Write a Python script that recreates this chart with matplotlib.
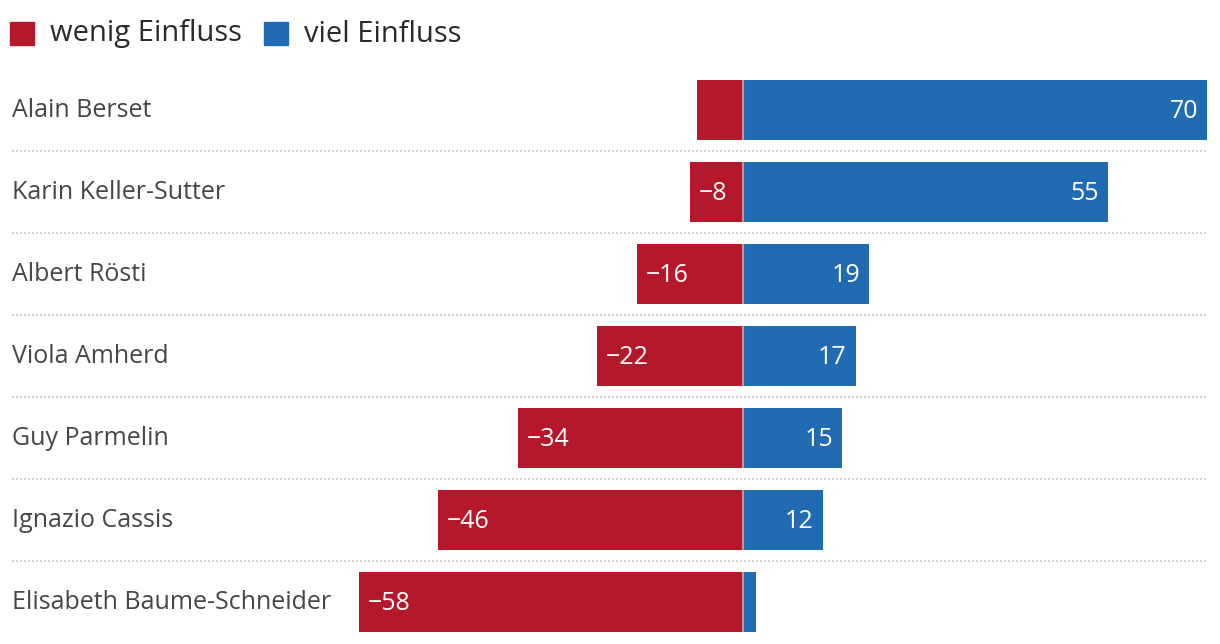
import numpy as np
import matplotlib.pyplot as plt
from matplotlib.patches import Rectangle

names = ["Alain Berset", "Karin Keller-Sutter", "Albert Rösti", "Viola Amherd",
         "Guy Parmelin", "Ignazio Cassis", "Elisabeth Baume-Schneider"]
wenig = [-7, -8, -16, -22, -34, -46, -58]
viel = [70, 55, 19, 17, 15, 12, 2]
legend_labels = ["wenig Einfluss", "viel Einfluss"]

red = '#b5182b'
blue = '#216bb2'
txt = '#464646'

plt.rcParams['font.family'] = ['Open Sans', 'DejaVu Sans']

W, H = 1220, 644
fig = plt.figure(figsize=(W / 100, H / 100), dpi=100)
ax = fig.add_axes([12 / W, 1 / H, (1207 - 12) / W, (643 - 69) / H])

y = np.arange(len(names))
bh = 60 / 82
ax.barh(y, wenig, height=bh, color=red, linewidth=0)
ax.barh(y, viel, height=bh, color=blue, linewidth=0)
ax.vlines(np.zeros(len(y)), y - bh / 2, y + bh / 2, color='#d98a94', linewidth=1.5, zorder=3)

for i in range(len(names) - 1):
    ax.axhline(i + 0.5, color='#cfcfcf', linewidth=1.44, linestyle=(0, (1, 1)))

ax.set_xlim(-110.3, 70)
ax.set_ylim(len(names) - 0.5, -0.5)
ax.axis('off')

for i, name in enumerate(names):
    ax.text(0, i + 0.01, name, transform=ax.get_yaxis_transform(), ha='left', va='center',
            fontsize=18, color=txt)
    if abs(wenig[i]) >= 8:
        ax.annotate('\u2212%d' % abs(wenig[i]), (wenig[i], i), xytext=(9, -1),
                    textcoords='offset pixels', ha='left', va='center',
                    fontsize=18, color='white')
    if viel[i] >= 8:
        ax.annotate('%d' % viel[i], (viel[i], i), xytext=(-9, -1),
                    textcoords='offset pixels', ha='right', va='center',
                    fontsize=18, color='white')

# legend
for x0, col, lab, tx in [(10, red, legend_labels[0], 50), (264, blue, legend_labels[1], 304)]:
    fig.add_artist(Rectangle((x0 / W, 1 - 45 / H), 24 / W, 23 / H, color=col,
                             transform=fig.transFigure))
    fig.text(tx / W, 1 - 34 / H, lab, ha='left', va='center', fontsize=21, color='#2a2a2a')

fig.savefig('out.png', dpi=100)
